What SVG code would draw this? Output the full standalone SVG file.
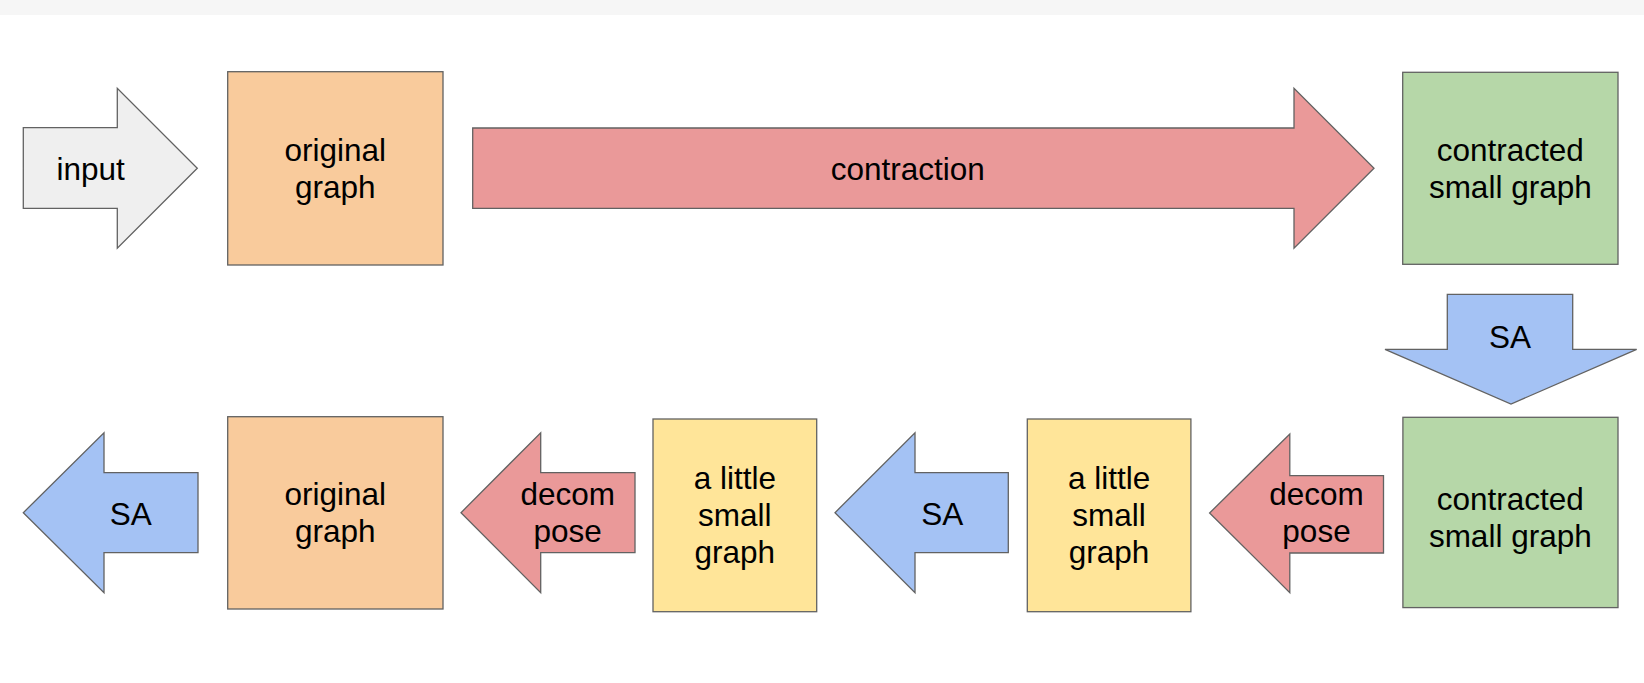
<svg xmlns="http://www.w3.org/2000/svg" width="1644" height="683" viewBox="0 0 1644 683">
<style>
.s{stroke:#626262;stroke-width:1.3;stroke-linejoin:miter}
.t{font-family:"Liberation Sans",Arial,sans-serif;font-size:31.5px;fill:#000;text-anchor:middle}
.gray{fill:#efefef}.orange{fill:#f9cb9c}.red{fill:#ea9999}.green{fill:#b6d7a8}.blue{fill:#a4c2f4}.yellow{fill:#ffe599}
</style>
<rect x="0" y="0" width="1644" height="683" fill="#ffffff"/>
<rect x="0" y="0" width="1644" height="15" fill="#f6f6f6"/>
<g id="nodes">
<g id="original-graph-top">
<rect class="s orange" x="227.7" y="71.7" width="215.3" height="193.3"/>
<text class="t" x="335.3" y="161">original</text>
<text class="t" x="335.3" y="197.7">graph</text>
</g>
<g id="contracted-top">
<rect class="s green" x="1402.7" y="72.3" width="215.3" height="192"/>
<text class="t" x="1510.3" y="160.5">contracted</text>
<text class="t" x="1510.3" y="197.5">small graph</text>
</g>
<g id="contracted-bottom">
<rect class="s green" x="1402.9" y="417.3" width="215.1" height="190.3"/>
<text class="t" x="1510.3" y="509.5">contracted</text>
<text class="t" x="1510.3" y="546.5">small graph</text>
</g>
<g id="little-small-2">
<rect class="s yellow" x="1027.3" y="419" width="163.6" height="192.7"/>
<text class="t" x="1109.1" y="489.3">a little</text>
<text class="t" x="1109.1" y="526.3">small</text>
<text class="t" x="1109.1" y="563">graph</text>
</g>
<g id="little-small-1">
<rect class="s yellow" x="653" y="419" width="163.7" height="192.7"/>
<text class="t" x="734.8" y="489.3">a little</text>
<text class="t" x="734.8" y="526.3">small</text>
<text class="t" x="734.8" y="563">graph</text>
</g>
<g id="original-graph-bottom">
<rect class="s orange" x="227.7" y="416.7" width="215.3" height="192.3"/>
<text class="t" x="335.3" y="505">original</text>
<text class="t" x="335.3" y="541.7">graph</text>
</g>
</g>
<g id="connectors">
<g id="input-arrow">
<polygon class="s gray" points="23.3,127.7 117.3,127.7 117.3,88.3 197.3,168.3 117.3,248.3 117.3,208.3 23.3,208.3"/>
<text class="t" x="90.7" y="180">input</text>
</g>
<g id="contraction-arrow">
<polygon class="s red" points="472.7,128 1294,128 1294,88.3 1374,168.3 1294,248.3 1294,208.3 472.7,208.3"/>
<text class="t" x="907.8" y="180">contraction</text>
</g>
<g id="sa-down">
<polygon class="s blue" points="1447.3,294.3 1572.7,294.3 1572.7,349.3 1636.7,349.3 1511,404 1385,349.3 1447.3,349.3"/>
<text class="t" x="1510" y="348">SA</text>
</g>
<g id="decompose-2">
<polygon class="s red" points="1383.5,475.6 1289.8,475.6 1289.8,434 1209.6,513 1289.8,592.6 1289.8,553 1383.5,553"/>
<text class="t" x="1316.5" y="505">decom</text>
<text class="t" x="1316.5" y="541.7">pose</text>
</g>
<g id="sa-middle">
<polygon class="s blue" points="1008.3,472.7 915,472.7 915,432.7 835,512.7 915,592.7 915,552.7 1008.3,552.7"/>
<text class="t" x="942.2" y="525">SA</text>
</g>
<g id="decompose-1">
<polygon class="s red" points="635,472.7 540.7,472.7 540.7,432.7 461,512.7 540.7,592.7 540.7,552.7 635,552.7"/>
<text class="t" x="567.7" y="505">decom</text>
<text class="t" x="567.7" y="541.7">pose</text>
</g>
<g id="sa-left">
<polygon class="s blue" points="198,472.7 104,472.7 104,432.7 23.3,512.7 104,592.7 104,552.7 198,552.7"/>
<text class="t" x="130.8" y="525">SA</text>
</g>
</g>
</svg>
